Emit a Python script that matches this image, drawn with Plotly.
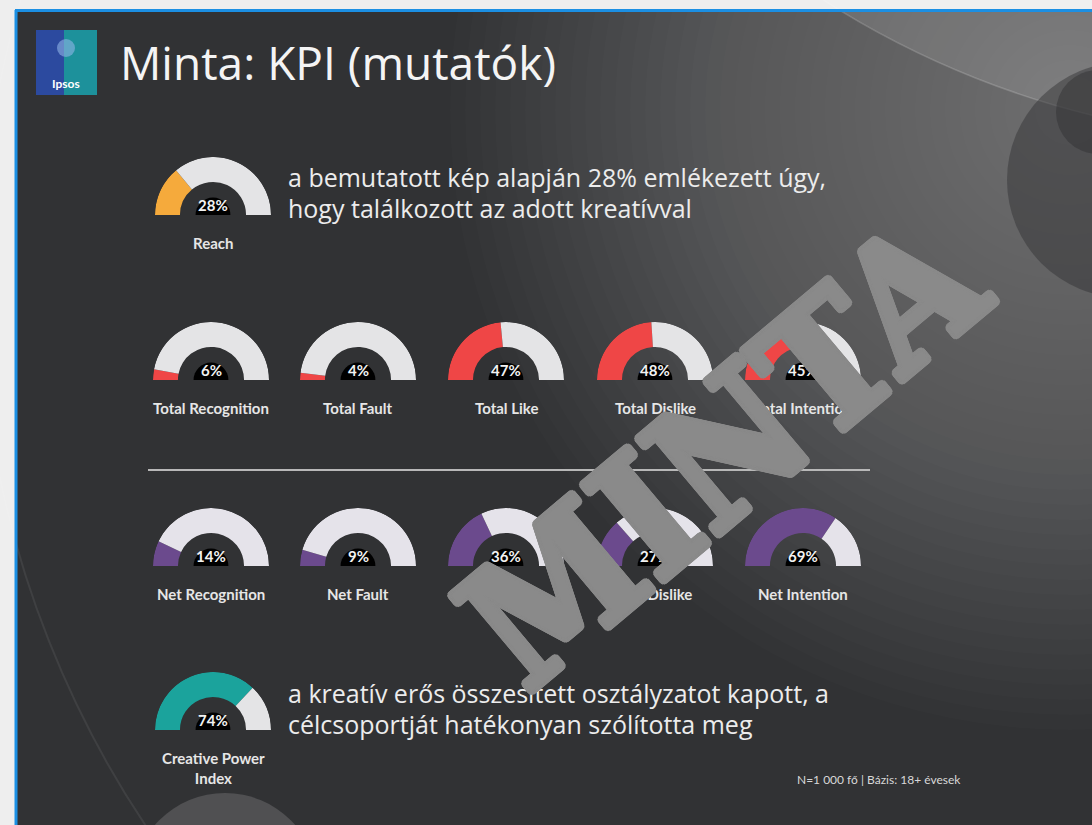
import plotly.graph_objects as go
import math

# ---------------- data ----------------
reach_label = "Reach"
reach_value = 28

total_labels = ["Total Recognition", "Total Fault", "Total Like", "Total Dislike", "Total Intention"]
total_values = [6, 4, 47, 48, 45]

net_labels = ["Net Recognition", "Net Fault", "Net Like", "Net Dislike", "Net Intention"]
net_values = [14, 9, 36, 27, 69]

cpi_label = "Creative Power<br>Index"
cpi_value = 74

title_text = "Minta: KPI (mutatók)"
reach_note = ["a bemutatott kép alapján 28% emlékezett úgy,", "hogy találkozott az adott kreatívval"]
cpi_note = ["a kreatív erős összesített osztályzatot kapott, a", "célcsoportját hatékonyan szólította meg"]
footnote = "N=1 000 fő | Bázis: 18+ évesek"
watermark = "MINTA"

# ---------------- layout helpers ----------------
W, H = 1092, 825
def px(x):
    return x / W
def py(y):
    return 1 - y / H

R = 58           # outer radius in px
INNER = 0.57     # inner radius fraction
CORE = 0.30      # black core fraction
GRAY = "#e4e4e6"
FONT = "Lato"
TXT = "Open Sans"

col_x = [211, 358, 506, 655, 803]

gauges = []
gauges.append((213, 215, reach_value, reach_label, "#f5aa3c", GRAY))
for cx, v, lab in zip(col_x, total_values, total_labels):
    gauges.append((cx, 380, v, lab, "#ef4646", GRAY))
for cx, v, lab in zip(col_x, net_values, net_labels):
    gauges.append((cx, 566, v, lab, "#6b4a8d", "#e5e3ea"))
gauges.append((213, 730, cpi_value, cpi_label, "#1ba39c", GRAY))

fig = go.Figure()
layout_polars = {}
annotations = []

for i, (cx, base_y, v, lab, col, gcol) in enumerate(gauges):
    name = "polar" if i == 0 else f"polar{i+1}"
    frac = v / 100.0
    fig.add_trace(go.Barpolar(
        r=[1 - INNER], base=[INNER], theta=[180 - frac * 90], width=[frac * 180],
        marker=dict(color=col, line=dict(width=0)), subplot=name,
        hoverinfo="skip", showlegend=False))
    fig.add_trace(go.Barpolar(
        r=[1 - INNER], base=[INNER], theta=[(180 - frac * 180) / 2], width=[180 - frac * 180],
        marker=dict(color=gcol, line=dict(width=0)), subplot=name,
        hoverinfo="skip", showlegend=False))
    fig.add_trace(go.Barpolar(
        r=[CORE], base=[0], theta=[90], width=[180],
        marker=dict(color="#000000", line=dict(width=0)), subplot=name,
        hoverinfo="skip", showlegend=False))
    layout_polars[name] = dict(
        domain=dict(x=[px(cx - R), px(cx + R)], y=[py(base_y), py(base_y - R)]),
        sector=[0, 180], hole=0, bgcolor="rgba(0,0,0,0)",
        radialaxis=dict(range=[0, 1], visible=False),
        angularaxis=dict(visible=False, rotation=0, direction="counterclockwise"),
        barmode="overlay")
    annotations.append(dict(
        x=px(cx), y=py(base_y - 10), xref="paper", yref="paper", text=f"<b>{v}%</b>",
        showarrow=False, font=dict(family=FONT, size=15, color="#f2f2f2"),
        xanchor="center", yanchor="middle"))
    ly = base_y + 28 if "<br>" not in lab else base_y + 38
    annotations.append(dict(
        x=px(cx), y=py(ly), xref="paper", yref="paper", text=lab,
        showarrow=False, font=dict(family=FONT, size=15, color="#e6e6e6", weight="bold"),
        xanchor="center", yanchor="middle", align="center"))

# title and notes
annotations.append(dict(x=px(118), y=py(62), xref="paper", yref="paper", text=title_text,
                        showarrow=False, xanchor="left", yanchor="middle",
                        font=dict(family=TXT, size=46, color="#f4f4f4")))
annotations.append(dict(x=px(66), y=py(84), xref="paper", yref="paper", text="<b>Ipsos</b>",
                        showarrow=False, xanchor="center", yanchor="middle",
                        font=dict(family=FONT, size=12, color="#ffffff")))
for k, line in enumerate(reach_note):
    annotations.append(dict(x=px(286), y=py(177 + 31 * k), xref="paper", yref="paper", text=line,
                            showarrow=False, xanchor="left", yanchor="middle",
                            font=dict(family=TXT, size=25, color="#ececec")))
for k, line in enumerate(cpi_note):
    annotations.append(dict(x=px(286), y=py(693 + 31 * k), xref="paper", yref="paper", text=line,
                            showarrow=False, xanchor="left", yanchor="middle",
                            font=dict(family=TXT, size=25, color="#ececec")))
annotations.append(dict(x=px(963), y=py(779), xref="paper", yref="paper", text=footnote,
                        showarrow=False, xanchor="right", yanchor="middle",
                        font=dict(family=FONT, size=12, color="#d8d8d8")))
# watermark on top (thickened with a dense ring of same-colour shadows)
wm = "#8a8a8a"
offs = []
for rad in (1.5, 3.0, 4.2):
    for a in range(0, 360, 20):
        offs.append((round(rad * math.cos(math.radians(a)), 2), round(rad * math.sin(math.radians(a)), 2)))
shadow = ", ".join(f"{dx}px {dy}px 0 {wm}" for dx, dy in offs)
annotations.append(dict(x=px(722), y=py(452), xref="paper", yref="paper", text=f"<b>{watermark}</b>",
                        showarrow=False, xanchor="center", yanchor="middle", textangle=-40,
                        font=dict(family="DejaVu Serif Condensed", size=172, color=wm, shadow=shadow)))

# ---------------- background shapes ----------------
shapes = []
def rect(x0, y0, x1, y1, color, opacity=1.0, layer="below"):
    shapes.append(dict(type="rect", xref="paper", yref="paper", x0=px(x0), x1=px(x1),
                       y0=py(y1), y1=py(y0), fillcolor=color, line=dict(width=0),
                       opacity=opacity, layer=layer))
def circle(cx, cy, r, color, opacity=1.0, layer="below", line=None):
    shapes.append(dict(type="circle", xref="paper", yref="paper", x0=px(cx - r), x1=px(cx + r),
                       y0=py(cy + r), y1=py(cy - r), fillcolor=color,
                       line=line if line else dict(width=0), opacity=opacity, layer=layer))

rect(0, 0, W, H, "#eeeeee")
rect(17, 11, W, H, "#313234")
# smooth light glow toward the top-right
for k in range(40):
    circle(1070, 110, 620 - k * 15, "#ffffff", opacity=0.013)
# lit area above the faint curve at top right
circle(1300, -740, 880, "#ffffff", opacity=0.11)
circle(1300, -740, 880, "rgba(0,0,0,0)", line=dict(color="rgba(255,255,255,0.18)", width=1.5))
# dark cloud at right edge
circle(1125, 180, 118, "#2e2e30", opacity=0.45)
circle(1098, 112, 42, "#2e2e30", opacity=0.45)
# bottom circle
circle(225, 886, 93, "#505052")
# faint big arc bottom left
circle(960, 280, 980, "rgba(0,0,0,0)", line=dict(color="rgba(255,255,255,0.07)", width=2))
# blue frame
shapes.append(dict(type="line", xref="paper", yref="paper", x0=px(15), x1=px(W), y0=py(10.5), y1=py(10.5),
                   line=dict(color="#1b8fe3", width=3), layer="below"))
shapes.append(dict(type="line", xref="paper", yref="paper", x0=px(16), x1=px(16), y0=py(10), y1=py(H),
                   line=dict(color="#1b8fe3", width=3), layer="below"))
# Ipsos logo
rect(36, 30, 97, 95, "#2c4a9f")
rect(64, 30, 97, 95, "#1b9d9a", opacity=0.85)
circle(66, 48, 9, "#8fb4e6", opacity=0.6)
# separator line
shapes.append(dict(type="line", xref="paper", yref="paper", x0=px(148), x1=px(870), y0=py(470), y1=py(470),
                   line=dict(color="#b8b8b8", width=2), layer="below"))

fig.update_layout(
    width=W, height=H, margin=dict(l=0, r=0, t=0, b=0),
    paper_bgcolor="#eeeeee", plot_bgcolor="rgba(0,0,0,0)",
    showlegend=False, shapes=shapes, annotations=annotations,
    **layout_polars)

fig.write_html("out.html", config={"displayModeBar": False},
               post_script="document.body.style.margin='0';document.body.style.overflow='hidden';")
